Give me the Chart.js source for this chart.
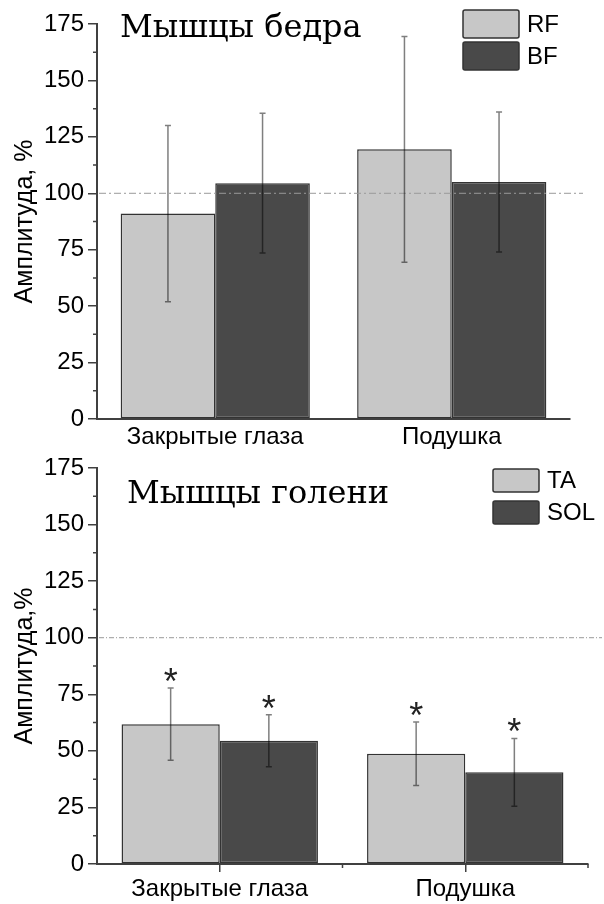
<!DOCTYPE html>
<html>
<head>
<meta charset="utf-8">
<script src="https://cdn.jsdelivr.net/npm/chart.js@4.4.1/dist/chart.umd.min.js"></script>
<style>
  html, body { margin: 0; padding: 0; background: #fff; }
  .panel { position: absolute; left: 0; width: 604px; height: 452px; }
  #thigh-panel { top: 0; }
  #shin-panel  { top: 452px; }
</style>
</head>
<body>
<div class="panel" id="thigh-panel"><canvas id="thighChart" width="604" height="452"></canvas></div>
<div class="panel" id="shin-panel"><canvas id="shinChart" width="604" height="452"></canvas></div>
<script>
// ----- Data -----
const categories = ["Закрытые глаза", "Подушка"];

const thighRF    = [91, 119.5];
const thighRFErr = [39, 50];
const thighBF    = [104.5, 105];
const thighBFErr = [31, 31];

const shinTA      = [61.8, 48.7];
const shinTAErr   = [16, 14];
const shinSOL     = [54.5, 40.5];
const shinSOLErr  = [11.5, 15];
const shinTAStar  = ["*", "*"];
const shinSOLStar = ["*", "*"];

const yMin  = 0;
const yMax  = 175;
const yStep = 25;
const baselineLevel = 100;

// ----- Styles -----
const LIGHT = "#c7c7c7";
const DARK  = "#494949";
const AXIS  = "#404040";
const TEXT  = "#000";
const SANS  = "'Liberation Sans', Arial, sans-serif";
const SERIF = "'DejaVu Serif', 'Liberation Serif', serif";

// ----- Plugins -----
const errorBars = {
  id: "errorBars",
  afterDatasetsDraw(chart) {
    const { ctx } = chart;
    const yScale = chart.scales.y;
    chart.data.datasets.forEach((ds, i) => {
      chart.getDatasetMeta(i).data.forEach((bar, j) => {
        const top = yScale.getPixelForValue(ds.data[j] + ds.errors[j]);
        const bot = yScale.getPixelForValue(ds.data[j] - ds.errors[j]);
        ctx.save();
        ctx.strokeStyle = "rgba(0,0,0,0.5)";
        ctx.lineWidth = 1.5;
        ctx.beginPath();
        ctx.moveTo(bar.x, top);     ctx.lineTo(bar.x, bot);
        ctx.moveTo(bar.x - 3, top); ctx.lineTo(bar.x + 3, top);
        ctx.moveTo(bar.x - 3, bot); ctx.lineTo(bar.x + 3, bot);
        ctx.stroke();
        //significance mark above the error bar
        if (ds.stars && ds.stars[j]) {
          ctx.fillStyle = "#222";
          ctx.font = `36px ${SANS}`;
          ctx.textAlign = "center";
          ctx.textBaseline = "alphabetic";
          ctx.fillText(ds.stars[j], bar.x, top + 6);
        }
        ctx.restore();
      });
    });
  }
};

const refLine = {
  id: "refLine",
  afterDatasetsDraw(chart, args, opts) {
    const { ctx, chartArea } = chart;
    const y = chart.scales.y.getPixelForValue(opts.value);
    ctx.save();
    ctx.strokeStyle = opts.color;
    ctx.lineWidth = 1;
    ctx.setLineDash(opts.dash);
    ctx.beginPath();
    ctx.moveTo(chartArea.left + 2, y);
    ctx.lineTo(chartArea.right + opts.extend, y);
    ctx.stroke();
    ctx.restore();
  }
};

const minorTicks = {
  id: "minorTicks",
  afterDraw(chart, args, opts) {
    const { ctx } = chart;
    const ys = chart.scales.y;
    ctx.save();
    ctx.strokeStyle = AXIS;
    ctx.lineWidth = 1.5;
    ctx.beginPath();
    for (let k = 0; k < ys.ticks.length - 1; k++) {
      const py = ys.getPixelForValue((ys.ticks[k].value + ys.ticks[k + 1].value) / 2);
      ctx.moveTo(ys.left + ys.width - 4, py);
      ctx.lineTo(ys.left + ys.width, py);
    }
    if (opts.xMinor) {
      const xs = chart.scales.x;
      const centers = categories.map((c, i) => xs.getPixelForValue(i));
      const edges = [];
      for (let i = 0; i < centers.length - 1; i++) edges.push((centers[i] + centers[i + 1]) / 2);
      edges.push(xs.right);
      edges.forEach(px => { ctx.moveTo(px, xs.top); ctx.lineTo(px, xs.top + 4); });
    }
    ctx.stroke();
    ctx.restore();
  }
};

const boxLegend = {
  id: "boxLegend",
  afterDraw(chart, args, opts) {
    const { ctx } = chart;
    ctx.save();
    chart.data.datasets.forEach((ds, i) => {
      const y = opts.y + i * (opts.h + opts.gap);
      ctx.fillStyle = ds.backgroundColor;
      ctx.strokeStyle = "#333";
      ctx.lineWidth = 1.5;
      ctx.beginPath();
      ctx.roundRect(opts.x, y, opts.w, opts.h, 2);
      ctx.fill();
      ctx.stroke();
      ctx.fillStyle = TEXT;
      ctx.font = `${opts.size}px ${SANS}`;
      ctx.textBaseline = "middle";
      ctx.fillText(ds.label, opts.x + opts.w + 8, y + opts.h / 2 + 1);
    });
    ctx.restore();
  }
};

const panelTitle = {
  id: "panelTitle",
  afterDraw(chart, args, opts) {
    const { ctx } = chart;
    ctx.save();
    ctx.fillStyle = TEXT;
    ctx.font = `${opts.size}px ${SERIF}`;
    ctx.textBaseline = "alphabetic";
    ctx.fillText(opts.text, opts.x, opts.y);
    ctx.restore();
  }
};

// ----- Chart builder -----
function makeChart(id, cfg) {
  const tickFont = { family: SANS, size: 24, lineHeight: 1 };
  return new Chart(document.getElementById(id), {
    type: "bar",
    data: {
      labels: categories,
      datasets: cfg.series.map(s => ({
        label: s.label,
        data: s.data,
        errors: s.errors,
        stars: s.stars,
        backgroundColor: s.color,
        borderColor: "#333",
        borderWidth: 1.5,
        borderSkipped: false,
        barPercentage: 1.0,
        categoryPercentage: 0.8,
      }))
    },
    options: {
      responsive: false,
      animation: false,
      layout: { padding: { left: 0, right: cfg.padRight, top: cfg.padTop, bottom: 0 } },
      plugins: {
        legend: { display: false },
        tooltip: { enabled: false },
        refLine: { value: baselineLevel, color: "#999", dash: cfg.dash, extend: cfg.lineExtend },
        minorTicks: { xMinor: cfg.xTicks },
        boxLegend: cfg.legend,
        panelTitle: cfg.title,
      },
      scales: {
        x: {
          ticks: { color: TEXT, font: tickFont, padding: cfg.xLabelPad, maxRotation: 0 },
          grid: { display: cfg.xTicks, drawTicks: cfg.xTicks, drawOnChartArea: false,
                  offset: false, tickLength: 8, color: AXIS, lineWidth: 1.5 },
          border: { display: true, color: AXIS, width: 2 },
          afterFit(scale) { scale.height = cfg.xHeight; }
        },
        y: {
          min: yMin, max: yMax,
          ticks: { stepSize: yStep, color: TEXT, font: tickFont, padding: 4 },
          grid: { drawOnChartArea: false, color: AXIS, lineWidth: 1.5, tickLength: 9 },
          border: { display: true, color: AXIS, width: 2 },
          title: { display: true, text: cfg.yTitle, color: TEXT,
                   font: { family: SANS, size: 25 }, padding: { top: 10, bottom: 0 } },
          afterFit(scale) { scale.width = 97; }
        }
      }
    },
    plugins: [refLine, errorBars, minorTicks, boxLegend, panelTitle]
  });
}

document.addEventListener("DOMContentLoaded", () => {
  makeChart("thighChart", {
    series: [
      { label: "RF", data: thighRF, errors: thighRFErr, color: LIGHT },
      { label: "BF", data: thighBF, errors: thighBFErr, color: DARK },
    ],
    padTop: 24, padRight: 34, xHeight: 33, xLabelPad: 6, xTicks: false,
    dash: [7, 3, 2, 3], lineExtend: 13,
    yTitle: "Амплитуда, %",
    legend: { x: 463, y: 10, w: 56, h: 28, gap: 4, size: 24 },
    title: { text: "Мышцы бедра", x: 120, y: 37, size: 32 },
  });

  makeChart("shinChart", {
    series: [
      { label: "TA",  data: shinTA,  errors: shinTAErr,  color: LIGHT, stars: shinTAStar },
      { label: "SOL", data: shinSOL, errors: shinSOLErr, color: DARK,  stars: shinSOLStar },
    ],
    padTop: 13, padRight: 16, xHeight: 40, xLabelPad: 5, xTicks: true,
    dash: [5, 2, 1, 2], lineExtend: 14,
    yTitle: "Амплитуда,%",
    legend: { x: 493, y: 17, w: 46, h: 23, gap: 9, size: 24 },
    title: { text: "Мышцы голени", x: 127, y: 51, size: 32 },
  });
});
</script>
</body>
</html>
